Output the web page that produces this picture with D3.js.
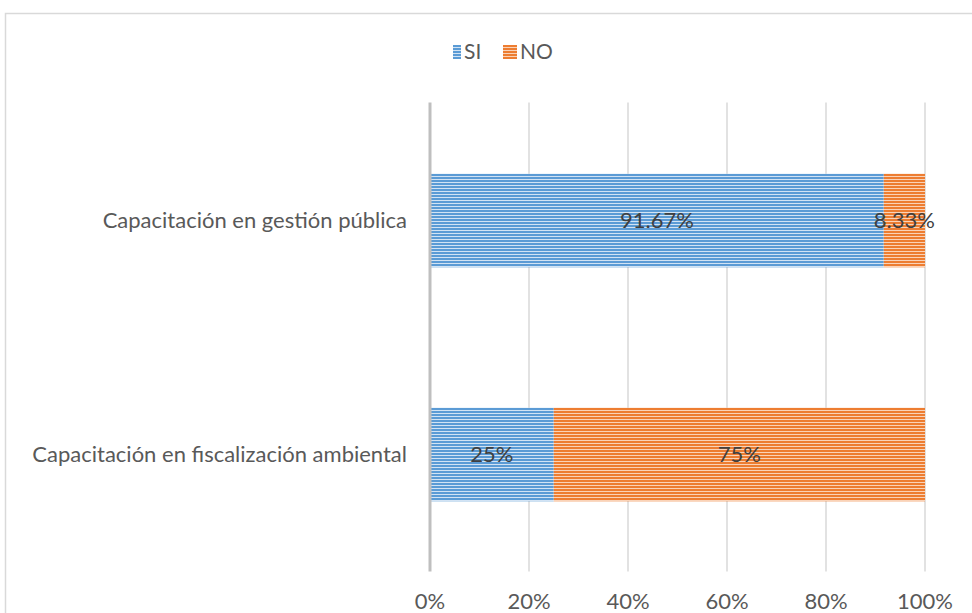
<!DOCTYPE html>
<html>
<head>
<meta charset="utf-8">
<script src="https://cdn.jsdelivr.net/npm/d3@7"></script>
<style>
  body { margin: 0; background: #fff; }
  svg { display: block; }
</style>
</head>
<body>
<div id="chart"></div>
<script>
// data
var categories = ["Capacitación en gestión pública", "Capacitación en fiscalización ambiental"];
var seriesNames = ["SI", "NO"];
var siValues = [0.9167, 0.25];
var noValues = [0.0833, 0.75];
var siLabels = ["91.67%", "25%"];
var noLabels = ["8.33%", "75%"];
var tickValues = [0, 0.2, 0.4, 0.6, 0.8, 1];
var tickLabels = ["0%", "20%", "40%", "60%", "80%", "100%"];

var colors = {SI: "#5b9bd5", NO: "#ed7d31"};
var light = {SI: "#d2e3f4", NO: "#fad3b8"};
var font = "Lato, 'Open Sans', sans-serif";

var width = 972, height = 613;
var plot = {left: 430, right: 925, top: 103.5, bottom: 571.5};

var svg = d3.select("#chart").append("svg")
    .attr("width", width)
    .attr("height", height);

// striped patterns, like the Excel fill
var defs = svg.append("defs");
seriesNames.forEach(function(s) {
  var p = defs.append("pattern")
      .attr("id", "stripe_" + s)
      .attr("patternUnits", "userSpaceOnUse")
      .attr("width", 6).attr("height", 3);
  p.append("rect").attr("width", 6).attr("height", 3).attr("fill", colors[s]);
  p.append("rect").attr("y", 2).attr("width", 6).attr("height", 1).attr("fill", light[s]);
});

// chart frame
svg.append("rect")
    .attr("x", 5.5).attr("y", 13.5)
    .attr("width", 980).attr("height", 620)
    .attr("fill", "none")
    .attr("stroke", "#d9d9d9")
    .attr("stroke-width", 1.5);

var x = d3.scaleLinear()
    .domain([0, 1])
    .range([plot.left, plot.right]);

var y = d3.scaleBand()
    .domain(categories)
    .range([plot.top, plot.bottom])
    .paddingInner(0.6)
    .paddingOuter(0.3);

// gridlines
svg.append("g")
    .selectAll("line")
    .data(tickValues.slice(1))
    .enter().append("line")
    .attr("x1", function(d) { return x(d); })
    .attr("x2", function(d) { return x(d); })
    .attr("y1", plot.top - 1)
    .attr("y2", plot.bottom)
    .attr("stroke", "#d9d9d9")
    .attr("stroke-width", 1.5);

// bars
var rows = categories.map(function(c, i) {
  return {cat: c, si: siValues[i], no: noValues[i], siLab: siLabels[i], noLab: noLabels[i]};
});

var g = svg.append("g");
g.selectAll(".si")
    .data(rows)
  .enter().append("rect")
    .attr("class", "si")
    .attr("x", x(0))
    .attr("y", function(d) { return y(d.cat); })
    .attr("width", function(d) { return x(d.si) - x(0); })
    .attr("height", y.bandwidth())
    .attr("fill", "url(#stripe_SI)");

g.selectAll(".no")
    .data(rows)
  .enter().append("rect")
    .attr("class", "no")
    .attr("x", function(d) { return x(d.si); })
    .attr("y", function(d) { return y(d.cat); })
    .attr("width", function(d) { return x(d.si + d.no) - x(d.si); })
    .attr("height", y.bandwidth())
    .attr("fill", "url(#stripe_NO)");

// value labels
g.selectAll(".silab")
    .data(rows)
  .enter().append("text")
    .attr("x", function(d) { return x(d.si / 2); })
    .attr("y", function(d) { return y(d.cat) + y.bandwidth() / 2; })
    .attr("dy", "0.35em")
    .attr("text-anchor", "middle")
    .style("font-family", font).style("font-size", "22px")
    .style("fill", "#404040")
    .text(function(d) { return d.siLab; });

g.selectAll(".nolab")
    .data(rows)
  .enter().append("text")
    .attr("x", function(d) { return x(d.si + d.no / 2); })
    .attr("y", function(d) { return y(d.cat) + y.bandwidth() / 2; })
    .attr("dy", "0.35em")
    .attr("text-anchor", "middle")
    .style("font-family", font).style("font-size", "22px")
    .style("fill", "#404040")
    .text(function(d) { return d.noLab; });

// vertical axis line
svg.append("line")
    .attr("x1", x(0)).attr("x2", x(0))
    .attr("y1", plot.top - 1).attr("y2", plot.bottom)
    .attr("stroke", "#bfbfbf")
    .attr("stroke-width", 3);

// category labels
svg.selectAll(".cat")
    .data(categories)
  .enter().append("text")
    .attr("x", 407)
    .attr("y", function(d) { return y(d) + y.bandwidth() / 2; })
    .attr("dy", "0.35em")
    .attr("text-anchor", "end")
    .style("font-family", font).style("font-size", "22px")
    .style("fill", "#595959")
    .text(function(d) { return d; });

// x tick labels
svg.selectAll(".tick")
    .data(tickValues)
  .enter().append("text")
    .attr("x", function(d) { return x(d); })
    .attr("y", 609)
    .attr("text-anchor", "middle")
    .style("font-family", font).style("font-size", "22px")
    .style("fill", "#595959")
    .text(function(d, i) { return tickLabels[i]; });

// legend
var legendX = [453, 503];
var legendW = [8, 14];
var legend = svg.selectAll(".leg")
    .data(seriesNames)
  .enter().append("g")
    .attr("transform", function(d, i) { return "translate(" + legendX[i] + ",45)"; });
legend.append("rect")
    .attr("width", function(d, i) { return legendW[i]; })
    .attr("height", 14)
    .attr("fill", function(d) { return "url(#stripe_" + d + ")"; });
legend.append("text")
    .attr("x", function(d, i) { return legendW[i] + 3; })
    .attr("y", 7)
    .attr("dy", "0.35em")
    .style("font-family", font).style("font-size", "21px")
    .style("fill", "#595959")
    .text(function(d) { return d; });
</script>
</body>
</html>
